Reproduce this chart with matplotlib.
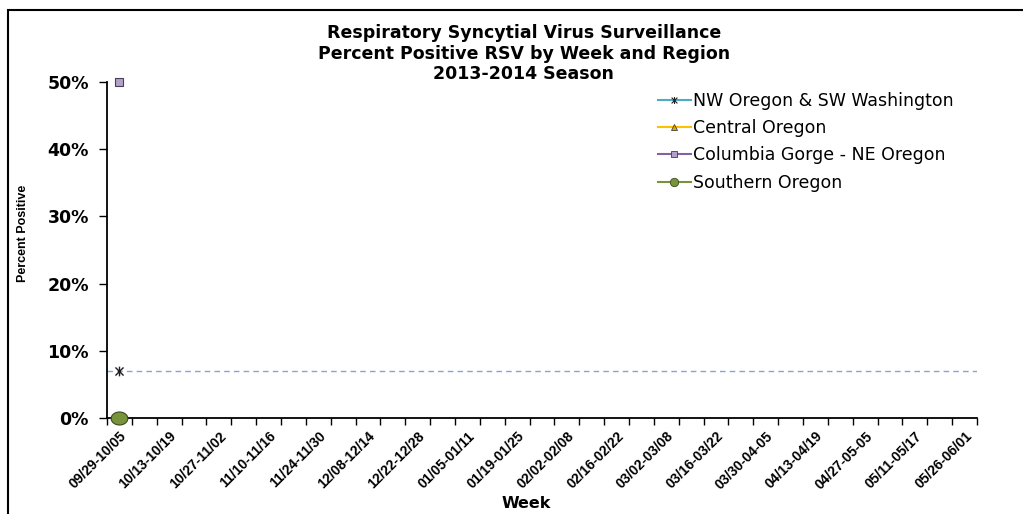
import matplotlib
matplotlib.use('Agg')
import matplotlib.pyplot as plt
from matplotlib.patches import Rectangle
from matplotlib.lines import Line2D
from matplotlib.path import Path
import numpy as np

plt.rcParams['font.family'] = ['DejaVu Sans']

# weekly categories, 2013-2014 season (labels shown every other week)
week_labels = ['09/29-10/05', '10/13-10/19', '10/27-11/02', '11/10-11/16',
               '11/24-11/30', '12/08-12/14', '12/22-12/28', '01/05-01/11',
               '01/19-01/25', '02/02-02/08', '02/16-02/22', '03/02-03/08',
               '03/16-03/22', '03/30-04-05', '04/13-04/19', '04/27-05-05',
               '05/11-05/17', '05/26-06/01']
n_weeks = 35

regions = ['NW Oregon & SW Washington', 'Central Oregon',
           'Columbia Gorge - NE Oregon', 'Southern Oregon']
# percent positive, only first week reported
nw_vals = [7.0]
central_vals = []
gorge_vals = [50.0]
southern_vals = [0.0]
nw_trend = 7.0

colors = ['#4bacc6', '#ffc000', '#8064a2', '#77933c']

# x with a vertical bar, like the Excel star marker
star = Path([(-1, -1), (1, 1), (-1, 1), (1, -1), (0, -1.2), (0, 1.2)],
            [Path.MOVETO, Path.LINETO, Path.MOVETO, Path.LINETO,
             Path.MOVETO, Path.LINETO])
t = np.linspace(0, 2 * np.pi, 60)
ellipse = Path(np.column_stack([np.cos(t), 0.78 * np.sin(t)]), closed=True)

fig = plt.figure(figsize=(10.23, 5.14), dpi=100)
ax = fig.add_axes([0.1046, 0.187, 0.8505, 0.653])

ax.plot(range(len(nw_vals)), nw_vals, color=colors[0], marker=star,
        markersize=7, markeredgecolor='#202020', markeredgewidth=1.0,
        linewidth=1.2, zorder=4)
ax.plot(range(len(central_vals)), central_vals, color=colors[1], marker='^')
ax.plot(range(len(gorge_vals)), gorge_vals, color=colors[2], marker='s',
        markersize=6, markerfacecolor='#b3a2c7', markeredgecolor='#4a3d5c',
        markeredgewidth=0.8, linewidth=1.2, clip_on=False)
ax.plot(range(len(southern_vals)), southern_vals, color=colors[3],
        marker=ellipse, markersize=12, markerfacecolor='#77933c',
        markeredgecolor='#3a4a1e', markeredgewidth=0.8, linewidth=1.2,
        clip_on=False, zorder=5)

# linear trend line for NW Oregon
ax.plot([-0.5, n_weeks - 0.5], [nw_trend, nw_trend], color='#7ea6d8',
        linestyle=(0, (4, 3)), linewidth=1.0)

ax.set_xlim(-0.5, n_weeks - 0.5)
ax.set_ylim(0, 50)
ax.set_yticks(np.arange(0, 51, 10))
ax.set_yticklabels([f'{v}%' for v in range(0, 51, 10)], fontsize=12.5,
                   fontweight='bold')
ax.tick_params(axis='y', direction='out', length=6, width=1, pad=7)

ax.set_xticks(np.arange(0, n_weeks, 2))
ax.set_xticklabels(week_labels, rotation=45, ha='right',
                   rotation_mode='anchor', fontsize=10, fontweight='bold',
                   family='Liberation Sans')
ax.set_xticks(np.arange(-0.5, n_weeks, 1), minor=True)
ax.tick_params(axis='x', which='major', length=0, pad=8)
ax.tick_params(axis='x', which='minor', direction='out', length=5, width=1)

for s in ['top', 'right']:
    ax.spines[s].set_visible(False)
for s in ['left', 'bottom']:
    ax.spines[s].set_linewidth(1.3)

ax.set_ylabel('Percent Positive', fontsize=9, fontweight='bold',
              family='Liberation Sans')
ax.yaxis.set_label_coords(-0.09, 0.55)
fig.text(0.514, 1 - 496 / 514, 'Week', ha='center', va='top', fontsize=11.5,
         fontweight='bold')

handles = [
    Line2D([], [], color=colors[0], marker=star, markersize=5,
           markeredgecolor='#202020', markeredgewidth=0.8, linewidth=1.5),
    Line2D([], [], color=colors[1], marker='^', markersize=5,
           markerfacecolor='#e0a800', markeredgecolor='#404040',
           markeredgewidth=0.6, linewidth=1.5),
    Line2D([], [], color=colors[2], marker='s', markersize=5,
           markerfacecolor='#b3a2c7', markeredgecolor='#404040',
           markeredgewidth=0.6, linewidth=1.5),
    Line2D([], [], color=colors[3], marker='o', markersize=6,
           markerfacecolor='#77933c', markeredgecolor='#3a4a1e',
           markeredgewidth=0.6, linewidth=1.5),
]
ax.legend(handles, regions, loc='upper left', bbox_to_anchor=(0.633, 0.971),
          frameon=False, fontsize=12.5, handlelength=1.9, handletextpad=0.15,
          labelspacing=0.53, borderpad=0, borderaxespad=0)

titles = ['Respiratory Syncytial Virus Surveillance',
          'Percent Positive RSV by Week and Region',
          '2013-2014 Season']
for line, ypix in zip(titles, [33, 54, 74]):
    fig.text(0.512, 1 - ypix / 514, line, ha='center', va='center',
             fontsize=12.5, fontweight='bold')

fig.patches.append(Rectangle((8 / 1023, -0.2), 1.2, 1 - 10 / 514 + 0.2,
                             transform=fig.transFigure, fill=False,
                             edgecolor='black', linewidth=1.5))

fig.savefig('out.png', dpi=100)
